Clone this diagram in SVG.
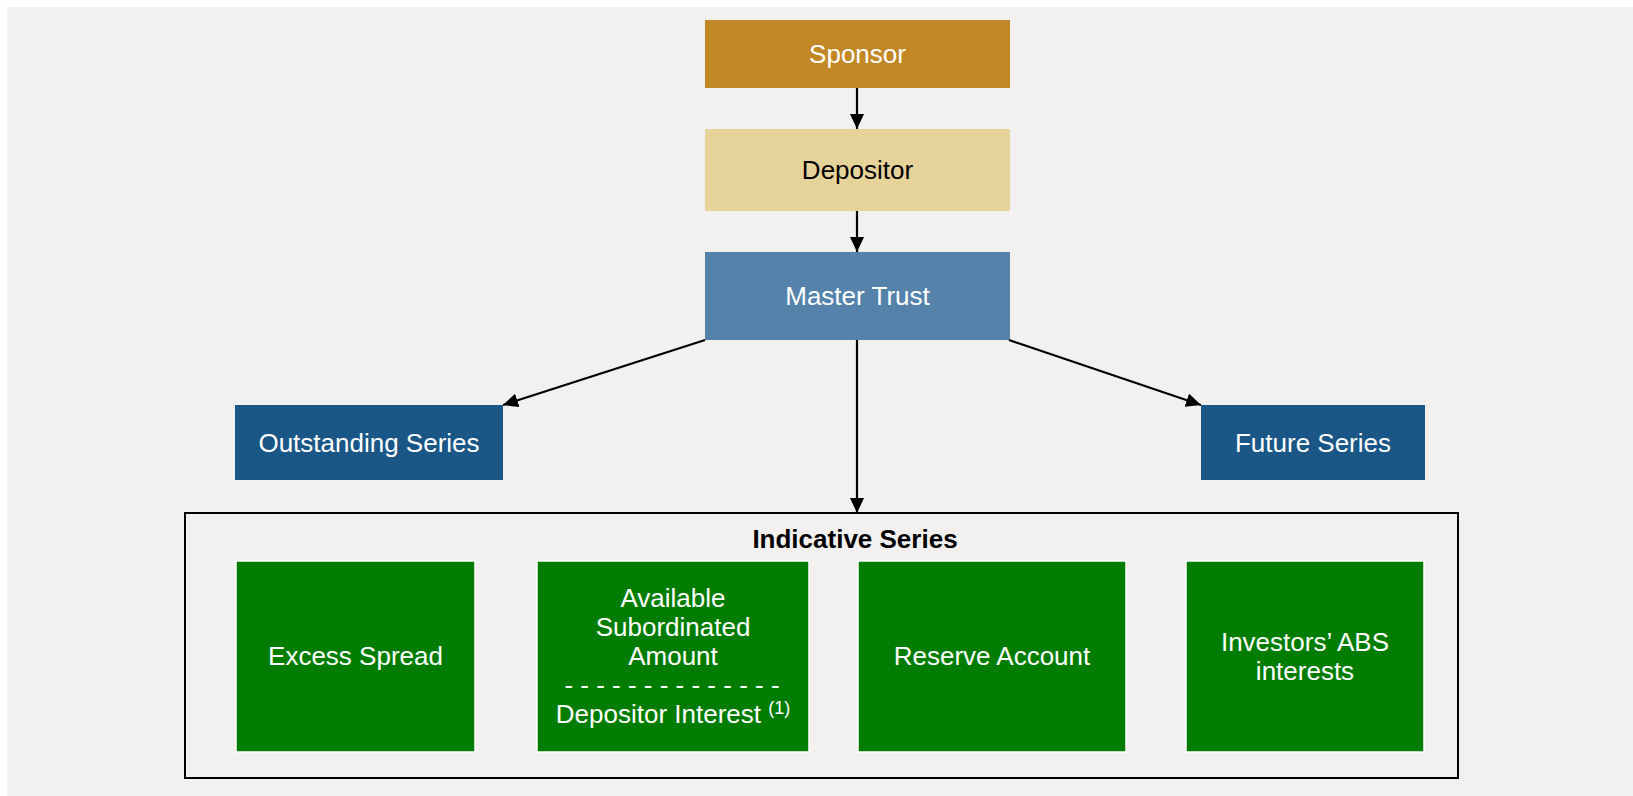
<svg xmlns="http://www.w3.org/2000/svg" width="1633" height="796" viewBox="0 0 1633 796">
  <defs>
    <marker id="arrow" markerUnits="userSpaceOnUse" markerWidth="15" markerHeight="14" refX="15" refY="7" orient="auto">
      <path d="M0,0 L15,7 L0,14 z" fill="#000"/>
    </marker>
    <style>
      text { font-family: "Liberation Sans", Arial, sans-serif; font-size: 26px; text-anchor: middle; }
      .w { fill: #ffffff; }
      .k { fill: #000000; }
      .green { fill: #007d00; stroke: #ffffff; stroke-width: 1.5; }
      .navy { fill: #1a5786; }
      .conn { stroke: #000; stroke-width: 2.2; fill: none; marker-end: url(#arrow); }
    </style>
  </defs>
  <rect x="0" y="0" width="1633" height="796" fill="#ffffff"/>
  <rect x="7" y="7" width="1626" height="789" fill="#f2f1ef"/>

  <g id="sponsor">
    <rect x="705" y="20" width="305" height="68" fill="#c38826"/>
    <text x="857.5" y="63" class="w">Sponsor</text>
  </g>
  <g id="depositor">
    <rect x="705" y="129" width="305" height="82" fill="#e6d399"/>
    <text x="857.5" y="179" class="k">Depositor</text>
  </g>
  <g id="master-trust">
    <rect x="705" y="252" width="305" height="88" fill="#5582ab"/>
    <text x="857.5" y="305" class="w">Master Trust</text>
  </g>
  <g id="outstanding-series">
    <rect x="235" y="405" width="268" height="75" class="navy"/>
    <text x="369" y="452" class="w">Outstanding Series</text>
  </g>
  <g id="future-series">
    <rect x="1201" y="405" width="224" height="75" class="navy"/>
    <text x="1313" y="452" class="w">Future Series</text>
  </g>
  <g id="indicative-series">
    <rect x="185" y="513" width="1273" height="265" fill="none" stroke="#000" stroke-width="2"/>
    <text x="855" y="548" class="k" font-weight="bold">Indicative Series</text>
  </g>
  <g id="excess-spread">
    <rect x="236" y="561" width="239" height="191" class="green"/>
    <text x="355.5" y="665" class="w">Excess Spread</text>
  </g>
  <g id="available-subordinated-amount">
    <rect x="537" y="561" width="272" height="191" class="green"/>
    <text x="673" y="607" class="w">Available</text>
    <text x="673" y="636" class="w">Subordinated</text>
    <text x="673" y="665" class="w">Amount</text>
    <text x="672" y="694" class="w">- - - - - - - - - - - - - -</text>
    <text x="673" y="723" class="w">Depositor Interest <tspan font-size="18" dy="-9">(1)</tspan></text>
  </g>
  <g id="reserve-account">
    <rect x="858" y="561" width="268" height="191" class="green"/>
    <text x="992" y="665" class="w">Reserve Account</text>
  </g>
  <g id="investors-abs-interests">
    <rect x="1186" y="561" width="238" height="191" class="green"/>
    <text x="1305" y="651" class="w">Investors’ ABS</text>
    <text x="1305" y="680" class="w">interests</text>
  </g>

  <g id="connectors">
    <line x1="857" y1="88" x2="857" y2="129" class="conn"/>
    <line x1="857" y1="211" x2="857" y2="252" class="conn"/>
    <line x1="857" y1="340" x2="857" y2="513" class="conn"/>
    <line x1="705" y1="340" x2="503" y2="405" class="conn"/>
    <line x1="1009" y1="340" x2="1201" y2="405" class="conn"/>
  </g>
</svg>
